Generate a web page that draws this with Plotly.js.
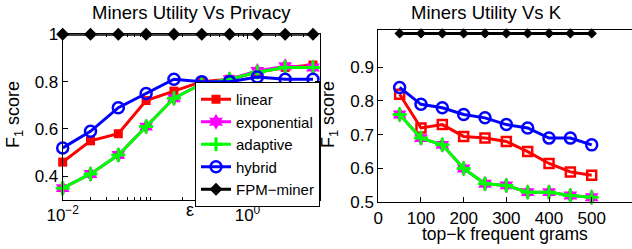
<!DOCTYPE html>
<html>
<head>
<meta charset="utf-8">
<script src="https://cdn.plot.ly/plotly-3.0.1.min.js"></script>
<style>html,body{margin:0;padding:0;background:#fff;}#chart{width:632px;height:249px;}</style>
</head>
<body>
<div id="chart"></div>
<script>
// ---- data: left panel (utility vs privacy budget epsilon) ----
var epsilon = [0.01, 0.02, 0.04, 0.08, 0.16, 0.32, 0.64, 1.28, 2.56, 5.12];
var epsLinear      = [0.46, 0.55, 0.58, 0.72, 0.76, 0.80, 0.81, 0.84, 0.86, 0.87];
var epsExponential = [0.35, 0.41, 0.49, 0.61, 0.73, 0.79, 0.81, 0.845, 0.865, 0.86];
var epsAdaptive    = [0.35, 0.41, 0.49, 0.61, 0.73, 0.79, 0.81, 0.84, 0.86, 0.86];
var epsHybrid      = [0.52, 0.59, 0.69, 0.75, 0.81, 0.80, 0.80, 0.82, 0.81, 0.81];
var epsFPM         = [1, 1, 1, 1, 1, 1, 1, 1, 1, 1];

// ---- data: right panel (utility vs top-k) ----
var topK = [50, 100, 150, 200, 250, 300, 350, 400, 450, 500];
var kLinear      = [0.82, 0.72, 0.73, 0.695, 0.69, 0.68, 0.65, 0.615, 0.59, 0.58];
var kExponential = [0.76, 0.69, 0.67, 0.60, 0.555, 0.55, 0.53, 0.53, 0.52, 0.515];
var kAdaptive    = [0.76, 0.69, 0.67, 0.60, 0.555, 0.55, 0.53, 0.53, 0.52, 0.515];
var kHybrid      = [0.84, 0.79, 0.78, 0.76, 0.75, 0.73, 0.72, 0.69, 0.69, 0.67];
var kFPM         = [1, 1, 1, 1, 1, 1, 1, 1, 1, 1];

var seriesNames = ['linear', 'exponential', 'adaptive', 'hybrid', 'FPM\u2212miner'];
var leftTickVals = [0.01, 1];
var leftTickText = ['10<sup>\u22122</sup>', '10<sup>0</sup>'];
var leftMinor = [0.02,0.03,0.04,0.05,0.06,0.07,0.08,0.09,0.2,0.3,0.4,0.5,0.6,0.7,0.8,0.9,2,3,4,5,6];
var rightXTicks = [0, 100, 200, 300, 400, 500];
var leftYTicks = [0.4, 0.6, 0.8, 1];
var leftYText = ['0.4', '0.6', '0.8', '1'];
var rightYTicks = [0.5, 0.6, 0.7, 0.8, 0.9];
var rightYText = ['0.5', '0.6', '0.7', '0.8', '0.9'];

var W = 632, H = 249;
function px(x){ return x / W; }
function py(y){ return 1 - y / H; }

var FONT = 'Liberation Sans, Arial, Helvetica, sans-serif';

var styles = [
  {color:'#ff0000', symbol:'square', size:9, lw:0},
  {color:'#ff00ff', symbol:'hexagram', size:12, lw:0},
  {color:'#00ff00', symbol:'cross-thin-open', size:10, lw:3},
  {color:'#0000ff', symbol:'circle-open', size:11, lw:2.5},
  {color:'#000000', symbol:'diamond', size:10, lw:0}
];

function mk(x, y, i, xa, ya, show, right){
  var s = styles[i];
  var sym = s.symbol, lw = s.lw, size = s.size;
  if (right && i === 0){ sym = 'square-open'; lw = 2.5; size = 9; }
  if (right && i === 4){ size = 8; }
  return {
    x: x, y: y, type: 'scatter', mode: 'lines+markers',
    name: seriesNames[i], xaxis: xa, yaxis: ya, showlegend: show,
    line: {color: s.color, width: 3},
    marker: {color: s.color, symbol: sym, size: size, line: {color: s.color, width: lw}},
    cliponaxis: false
  };
}

var leftSeries = [epsLinear, epsExponential, epsAdaptive, epsHybrid, epsFPM];
var rightSeries = [kLinear, kExponential, kAdaptive, kHybrid, kFPM];
var traces = [];
for (var i = 0; i < 5; i++) traces.push(mk(epsilon, leftSeries[i], i, 'x', 'y', true, false));
for (var j = 0; j < 5; j++) traces.push(mk(topK, rightSeries[j], j, 'x2', 'y2', false, true));

var axBase = {
  showgrid: false, zeroline: false, showline: true, linecolor: '#000', linewidth: 1,
  ticks: 'inside', ticklen: 5, tickcolor: '#000', tickwidth: 1,
  tickfont: {family: FONT, size: 17, color: '#000'}
};
function ax(extra){ var o = JSON.parse(JSON.stringify(axBase)); for (var k in extra) o[k] = extra[k]; return o; }

var layout = {
  width: W, height: H,
  margin: {l: 0, r: 0, t: 0, b: 0, pad: 0},
  paper_bgcolor: '#fff', plot_bgcolor: '#fff',
  font: {family: FONT, size: 17, color: '#000'},
  xaxis: ax({domain: [px(62.7), px(319.5)], type: 'log', range: [-2, 0.78],
    tickmode: 'array', tickvals: leftTickVals, ticktext: leftTickText, mirror: 'ticks',
    minor: {tickmode: 'array', tickvals: leftMinor, ticks: 'inside', ticklen: 3, tickcolor: '#000', showgrid: false},
    anchor: 'y'}),
  yaxis: ax({domain: [py(200), py(34.3)], range: [0.3, 1.0], tickvals: leftYTicks, ticktext: leftYText,
    tickmode: 'array', mirror: 'ticks', anchor: 'x'}),
  xaxis2: ax({domain: [px(378.3), 1], range: [0, 594.4], tickmode: 'array',
    tickvals: rightXTicks, mirror: true, anchor: 'y2'}),
  yaxis2: ax({domain: [py(202.3), py(30)], range: [0.5, 1.01], tickmode: 'array',
    tickvals: rightYTicks, ticktext: rightYText, anchor: 'x2'}),
  showlegend: true,
  legend: {x: px(195), y: py(82), xanchor: 'left', yanchor: 'top', xref: 'paper', yref: 'paper',
    bgcolor: '#fff', bordercolor: '#000', borderwidth: 1, itemwidth: 30, tracegroupgap: 0,
    font: {family: FONT, size: 15, color: '#000'}},
  annotations: [
    {text: 'Miners Utility Vs Privacy', x: px(191), y: py(12), xref: 'paper', yref: 'paper', showarrow: false,
      font: {family: FONT, size: 18.5}, xanchor: 'center', yanchor: 'middle'},
    {text: 'Miners Utility Vs K', x: px(486), y: py(12), xref: 'paper', yref: 'paper', showarrow: false,
      font: {family: FONT, size: 18.5}, xanchor: 'center', yanchor: 'middle'},
    {text: 'F<sub>1</sub> score', x: px(15), y: py(115), xref: 'paper', yref: 'paper', showarrow: false,
      textangle: -90, font: {family: FONT, size: 18}, xanchor: 'center', yanchor: 'middle'},
    {text: 'F<sub>1</sub> score', x: px(330), y: py(115), xref: 'paper', yref: 'paper', showarrow: false,
      textangle: -90, font: {family: FONT, size: 18}, xanchor: 'center', yanchor: 'middle'},
    {text: '\u03b5', x: px(190), y: py(210), xref: 'paper', yref: 'paper', showarrow: false,
      font: {family: FONT, size: 18}, xanchor: 'center', yanchor: 'middle'},
    {text: 'top\u2212k frequent grams', x: px(505), y: py(234), xref: 'paper', yref: 'paper', showarrow: false,
      font: {family: FONT, size: 17.5}, xanchor: 'center', yanchor: 'middle'}
  ]
};

Plotly.newPlot('chart', traces, layout, {staticPlot: true, displayModeBar: false});
</script>
</body>
</html>
